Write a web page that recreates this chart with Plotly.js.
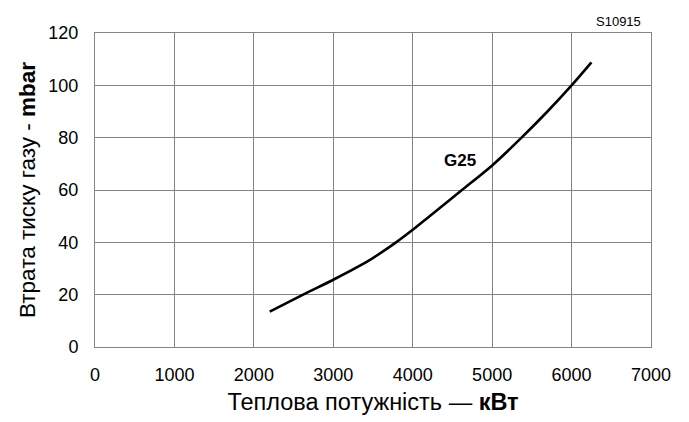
<!DOCTYPE html>
<html>
<head>
<meta charset="utf-8">
<script src="https://cdn.plot.ly/plotly-3.0.1.min.js"></script>
<style>html,body{margin:0;padding:0;background:#fff;}#chart{width:689px;height:422px;}</style>
</head>
<body>
<div id="chart"></div>
<script>
var powerKW = [2200, 2620, 3000, 3420, 3790, 4000, 4220, 4620, 5000, 5370, 5690, 6000, 6250];
var pressureDrop = [13.5, 20, 25.7, 32.5, 40, 44.8, 50.2, 60, 69.4, 80, 89.8, 100, 108.8];
var xTicks = [0, 1000, 2000, 3000, 4000, 5000, 6000, 7000];
var yTicks = [0, 20, 40, 60, 80, 100, 120];
var curveLabel = 'G25';
var curveLabelPos = [4590, 71.3];
var codeLabel = 'S10915';

var font = 'Arial, "Liberation Sans", sans-serif';
var grid = '#858585';

var data = [{
  x: powerKW, y: pressureDrop, type: 'scatter', mode: 'lines',
  line: {color: '#000', width: 2.6, shape: 'spline', smoothing: 0.8},
  hoverinfo: 'skip', showlegend: false
}];

var layout = {
  width: 689, height: 422,
  margin: {l: 95, r: 38, t: 33, b: 75},
  paper_bgcolor: '#fff', plot_bgcolor: '#fff',
  font: {family: font, color: '#000', size: 18},
  xaxis: {
    range: [0, 7000], tickvals: xTicks, ticktext: xTicks.map(String),
    showgrid: true, gridcolor: grid, gridwidth: 1,
    showline: true, linecolor: grid, linewidth: 1, mirror: true,
    zeroline: false, ticks: 'outside', ticklen: 11, tickcolor: 'rgba(0,0,0,0)',
    tickfont: {size: 18, family: font, color: '#000'},
    title: {text: 'Теплова потужність — <b>кВт</b>', font: {size: 23.5, family: font, color: '#000'}, standoff: 9}
  },
  yaxis: {
    range: [0, 120], tickvals: yTicks, ticktext: yTicks.map(String),
    showgrid: true, gridcolor: grid, gridwidth: 1,
    showline: true, linecolor: grid, linewidth: 1, mirror: true,
    zeroline: false, ticks: 'outside', ticklen: 12, tickcolor: 'rgba(0,0,0,0)',
    tickfont: {size: 18, family: font, color: '#000'},
    title: {text: 'Втрата тиску газу - <b>mbar</b>', font: {size: 22.5, family: font, color: '#000'}, standoff: 6}
  },
  annotations: [
    {x: curveLabelPos[0], y: curveLabelPos[1], xref: 'x', yref: 'y', text: '<b>' + curveLabel + '</b>',
     xanchor: 'center', yanchor: 'middle', showarrow: false, font: {size: 17, family: font, color: '#000'}},
    {x: 0, y: 0, xref: 'paper', yref: 'paper', text: codeLabel, showarrow: false,
     xanchor: 'center', yanchor: 'middle', font: {size: 13, family: font, color: '#000'}}
  ]
};
layout.annotations[1].x = (618 - 95) / (689 - 95 - 38);
layout.annotations[1].y = 1 + (33 - 22) / (422 - 33 - 75);

Plotly.newPlot('chart', data, layout, {displayModeBar: false, staticPlot: true});
</script>
</body>
</html>
